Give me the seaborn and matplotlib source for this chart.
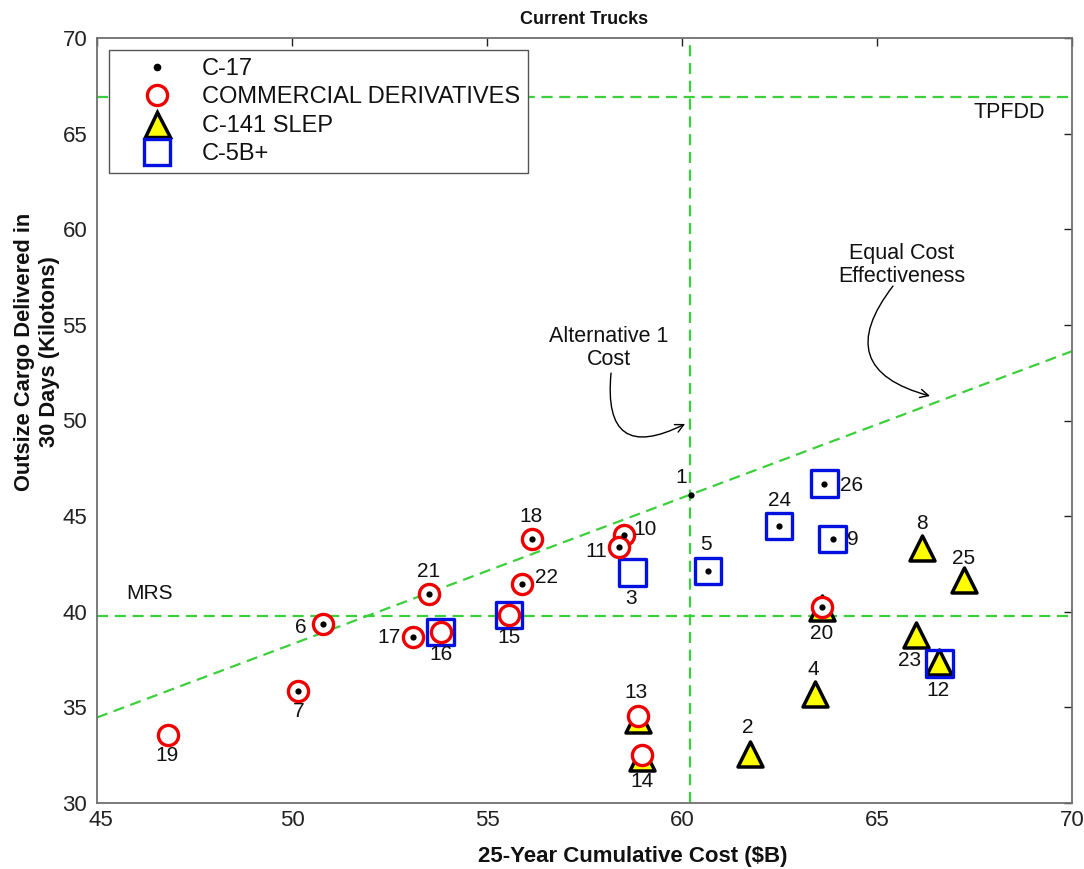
import numpy as np
import pandas as pd
import seaborn as sns
import matplotlib.pyplot as plt
import matplotlib.transforms as mtransforms
from matplotlib.lines import Line2D

# ---------------- data ----------------
c17_ids = [1, 5, 6, 7, 9, 10, 11, 17, 18, 20, 21, 22, 24, 26]
c17_x = [60.22, 60.67, 50.79, 50.16, 63.86, 58.50, 58.39, 53.11, 56.16, 63.58, 53.50, 55.90, 62.49, 63.65]
c17_y = [46.13, 42.13, 39.34, 35.87, 43.80, 44.01, 43.37, 38.66, 43.80, 40.27, 40.93, 41.45, 44.48, 46.70]

cd_ids = [6, 7, 10, 11, 13, 14, 15, 16, 17, 18, 19, 20, 21, 22]
cd_x = [50.79, 50.16, 58.50, 58.39, 58.86, 58.98, 55.56, 53.81, 53.11, 56.16, 46.83, 63.58, 53.50, 55.90]
cd_y = [39.34, 35.87, 44.01, 43.37, 34.57, 32.51, 39.83, 38.94, 38.66, 43.80, 33.56, 40.27, 40.93, 41.45]

slep_ids = [2, 4, 8, 12, 13, 14, 20, 23, 25]
slep_x = [61.74, 63.41, 66.16, 66.60, 58.88, 58.98, 63.58, 66.00, 67.23]
slep_y = [32.57, 35.72, 43.33, 37.36, 34.33, 32.35, 40.17, 38.78, 41.66]

c5_ids = [3, 5, 9, 12, 15, 16, 24, 26]
c5_x = [58.73, 60.67, 63.86, 66.60, 55.56, 53.81, 62.49, 63.65]
c5_y = [42.06, 42.13, 43.80, 37.29, 39.83, 38.94, 44.48, 46.70]

series_names = ["C-17", "COMMERCIAL DERIVATIVES", "C-141 SLEP", "C-5B+"]

mrs_level = 39.8
tpfdd_level = 66.9
alt1_cost = 60.2
x_ticks = [45, 50, 55, 60, 65, 70]
y_ticks = [30, 35, 40, 45, 50, 55, 60, 65, 70]

# ---------------- style ----------------
sns.set_theme(style="white")
plt.rcParams['font.family'] = ['Liberation Sans', 'DejaVu Sans']

GREEN = '#3ccf3c'
TXT = '#111111'
fig = plt.figure(figsize=(10.84, 8.69), dpi=100)
ax = fig.add_axes([97 / 1084, 1 - 803 / 869, (1072 - 97) / 1084, (803 - 38) / 869])

df_c17 = pd.DataFrame({"x": c17_x, "y": c17_y})
df_cd = pd.DataFrame({"x": cd_x, "y": cd_y})
df_slep = pd.DataFrame({"x": slep_x, "y": slep_y})
df_c5 = pd.DataFrame({"x": c5_x, "y": c5_y})

# reference lines
dash = (5, 3)
ax.axhline(mrs_level, color=GREEN, lw=1.6, dashes=dash, zorder=1)
ax.axhline(tpfdd_level, color=GREEN, lw=1.6, dashes=dash, zorder=1)
ax.axvline(alt1_cost, color=GREEN, lw=1.6, dashes=dash, zorder=1)
# equal cost-effectiveness line through origin and alternative 1
ratio = c17_y[0] / c17_x[0]
xs = np.array([45, 70])
ax.plot(xs, xs * ratio, color=GREEN, lw=1.6, dashes=dash, zorder=1)

tri_ms, sq_ms, circ_ms, dot_ms = 18, 19, 14.5, 4.5
sns.scatterplot(data=df_slep, x="x", y="y", ax=ax, marker='^', s=tri_ms ** 2,
                color='#ffff00', edgecolor='black', linewidth=2.5, zorder=3, legend=False)
sns.scatterplot(data=df_c5, x="x", y="y", ax=ax, marker='s', s=sq_ms ** 2,
                facecolor='none', edgecolor='#0010e0', linewidth=2.4, zorder=4, legend=False)
sns.scatterplot(data=df_cd, x="x", y="y", ax=ax, marker='o', s=circ_ms ** 2,
                color='white', edgecolor='#ee0000', linewidth=2.4, zorder=5, legend=False)
sns.scatterplot(data=df_c17, x="x", y="y", ax=ax, marker='o', s=dot_ms ** 2,
                color='black', edgecolor='black', linewidth=0, zorder=6, legend=False)

# point labels
pos = {}
for ids, xv, yv in [(c5_ids, c5_x, c5_y), (slep_ids, slep_x, slep_y),
                    (cd_ids, cd_x, cd_y), (c17_ids, c17_x, c17_y)]:
    for i, xx, yy in zip(ids, xv, yv):
        pos[i] = (xx, yy)

offsets = {1: (-6.5, 12.5), 2: (-1.5, 18.7), 3: (-0.7, -18.7), 4: (-1.2, 17.3), 5: (-1.7, 19.2),
           6: (-15.6, -2.4), 7: (0, -15), 8: (0, 17.8), 9: (14.8, 0), 10: (15.5, 4.3),
           11: (-16.5, -3.2), 12: (-1.2, -20.6), 13: (-1, 16.8), 14: (0, -19), 15: (0, -16.5),
           16: (0, -16.5), 17: (-17.5, 0), 18: (-1, 16), 19: (-0.7, -15), 20: (0, -19.5),
           21: (0, 16), 22: (17.5, 4.8), 23: (-4.5, -18), 24: (0, 18.7), 25: (0, 15.6),
           26: (19.5, -1)}
for i, (xx, yy) in pos.items():
    dx, dy = offsets[i]
    ax.annotate(str(i), (xx, yy), xytext=(dx, dy), textcoords='offset points',
                ha='center', va='center', fontsize=15, color=TXT, zorder=7)

# text annotations
ax.text(46.36, 40.93, "MRS", fontsize=15, ha='center', va='center', color=TXT)
ax.text(68.4, 66.1, "TPFDD", fontsize=15.5, ha='center', va='center', color=TXT)
ax.text(58.13, 53.79, "Alternative 1\nCost", fontsize=15.5, ha='center', va='center',
        color=TXT, linespacing=1.1)
ax.text(65.64, 58.13, "Equal Cost\nEffectiveness", fontsize=15.5, ha='center', va='center',
        color=TXT, linespacing=1.1)
ax.annotate("", xy=(60.08, 49.82), xytext=(58.18, 52.48),
            arrowprops=dict(arrowstyle='->', color='black', lw=1.0, mutation_scale=15,
                            connectionstyle='arc3,rad=0.9', shrinkA=0, shrinkB=0))
ax.annotate("", xy=(66.36, 51.28), xytext=(65.41, 57.03),
            arrowprops=dict(arrowstyle='->', color='black', lw=1.0, mutation_scale=15,
                            connectionstyle='arc3,rad=0.75', shrinkA=0, shrinkB=0))

# axes
ax.set_xlim(45, 70)
ax.set_ylim(30, 70)
ax.set_xticks(x_ticks)
ax.set_yticks(y_ticks)
ax.tick_params(direction='in', length=6, width=1, top=True, right=True,
               labelsize=16, colors='#222222')
ax.tick_params(axis='x', pad=5)
ax.tick_params(axis='y', pad=7)
# nudge the corner tick label "45" a little right so it clears "30"
first_tick = ax.xaxis.get_major_ticks()[0]
first_tick.label1.set_transform(first_tick.label1.get_transform() +
                                mtransforms.ScaledTranslation(4 / 100, 0, fig.dpi_scale_trans))
for sp in ax.spines.values():
    sp.set_color('#707070')
    sp.set_linewidth(1.3)
ax.set_xlabel("25-Year Cumulative Cost ($B)", fontsize=16, fontweight='bold', color=TXT)
ax.xaxis.set_label_coords(0.55, -0.056)
ax.set_ylabel("Outsize Cargo Delivered in\n30 Days (Kilotons)", fontsize=15.75,
              fontweight='bold', color=TXT, linespacing=1.25)
ax.yaxis.set_label_coords(-0.038, 0.59)
ax.set_title("Current Trucks", fontsize=13, fontweight='bold', pad=10, color=TXT)

handles = [
    Line2D([], [], ls='none', marker='o', ms=dot_ms, mfc='black', mec='black'),
    Line2D([], [], ls='none', marker='o', ms=circ_ms, mfc='white', mec='#ee0000', mew=2.4),
    Line2D([], [], ls='none', marker='^', ms=tri_ms, mfc='#ffff00', mec='black', mew=2.5),
    Line2D([], [], ls='none', marker='s', ms=sq_ms, mfc='none', mec='#0010e0', mew=2.4),
]
leg = ax.legend(handles, series_names, loc='upper left', fontsize=17, frameon=True,
                fancybox=False, edgecolor='#555555', framealpha=1, borderaxespad=0.5,
                labelspacing=0.27, handlelength=3.4, handletextpad=0.2, borderpad=0.35)
leg.get_frame().set_linewidth(1.0)
for t in leg.get_texts():
    t.set_color(TXT)

fig.savefig("out.png", dpi=100)
